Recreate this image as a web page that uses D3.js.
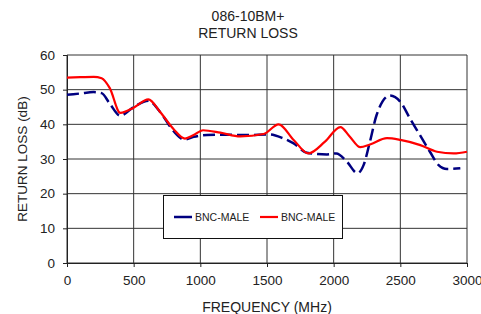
<!DOCTYPE html>
<meta charset="utf-8">
<style>
body { margin: 0; background: #fff; }
text { font-family: "Liberation Sans", Arial, sans-serif; fill: #222; }
.grid line { stroke: #333; stroke-width: 1; }
</style>
<body>
<script src="https://d3js.org/d3.v7.min.js"></script>
<script>

// data
var freqRed = [0, 100, 200, 260, 320, 400, 500, 610, 700, 800, 885, 950, 1020, 1150, 1300, 1475, 1587, 1700, 1810, 1935, 2050, 2120, 2200, 2272, 2400, 2500, 2650, 2775, 2900, 3000];
var lossRed = [53.5, 53.6, 53.7, 53.3, 50.5, 43.3, 44.8, 47.2, 43.5, 38.6, 35.9, 36.9, 38.3, 37.6, 36.5, 37.2, 40, 35.5, 31.6, 35, 39.2, 36.5, 33.4, 34.2, 36, 35.5, 34, 32.1, 31.6, 32.1];
var freqBlue = [0, 100, 200, 260, 320, 400, 500, 610, 700, 800, 880, 950, 1050, 1200, 1350, 1520, 1620, 1700, 1800, 1950, 2020, 2100, 2178, 2225, 2272, 2322, 2422, 2500, 2572, 2647, 2722, 2785, 2850, 2950];
var lossBlue = [48.5, 48.9, 49.3, 49, 46, 42.5, 45, 46.8, 43.5, 38, 35.6, 36.4, 36.9, 37, 36.9, 37.1, 36, 34.5, 31.8, 31.3, 31.6, 29.2, 25.9, 28.3, 35, 42.7, 48.3, 46.5, 41.7, 36.9, 32.1, 28.3, 27.1, 27.3];
var xTicks = [0, 500, 1000, 1500, 2000, 2500, 3000];
var yTicks = [0, 10, 20, 30, 40, 50, 60];
var seriesNames = ["BNC-MALE", "BNC-MALE"];

var margin = {top: 55, right: 14, bottom: 51, left: 67},
    width = 481 - margin.left - margin.right,
    height = 314 - margin.top - margin.bottom;

var svg = d3.select("body").append("svg")
    .attr("width", 481)
    .attr("height", 314);

var g = svg.append("g")
    .attr("transform", "translate(" + margin.left + "," + margin.top + ")");

var x = d3.scaleLinear().domain([0, 3000]).range([0, width]);
var y = d3.scaleLinear().domain([0, 60]).range([height, 0]);

// title
svg.append("text").attr("x", 248).attr("y", 21).attr("text-anchor", "middle")
    .style("font-size", "14px").text("086-10BM+");
svg.append("text").attr("x", 248).attr("y", 38).attr("text-anchor", "middle")
    .style("font-size", "14px").text("RETURN LOSS");

// grid
var grid = g.append("g").attr("class", "grid");
grid.selectAll(".v").data(xTicks).enter().append("line")
    .attr("x1", function(d) { return x(d); }).attr("x2", function(d) { return x(d); })
    .attr("y1", 0).attr("y2", height);
grid.selectAll(".h").data(yTicks).enter().append("line")
    .attr("x1", 0).attr("x2", width)
    .attr("y1", function(d) { return y(d); }).attr("y2", function(d) { return y(d); });

// axes
var xAxis = g.append("g")
    .attr("transform", "translate(0," + height + ")")
    .call(d3.axisBottom(x).tickValues(xTicks).tickSize(4).tickPadding(8).tickFormat(d3.format("d")));
var yAxis = g.append("g")
    .call(d3.axisLeft(y).tickValues(yTicks).tickSize(4).tickPadding(8));
[xAxis, yAxis].forEach(function(a) {
  a.select(".domain").attr("stroke", "#222");
  a.selectAll(".tick line").attr("stroke", "#222");
  a.selectAll("text").style("font-size", "13.5px")
    .style("font-family", "'Liberation Sans', Arial, sans-serif").attr("fill", "#222");
});

// axis titles
svg.append("text").attr("x", 267).attr("y", 312).attr("text-anchor", "middle")
    .style("font-size", "14px").text("FREQUENCY (MHz)");
svg.append("text").attr("transform", "translate(27,159) rotate(-90)")
    .attr("text-anchor", "middle").style("font-size", "13.5px").text("RETURN LOSS (dB)");

// lines
var line = d3.line().curve(d3.curveMonotoneX);

g.append("path")
    .datum(freqBlue.map(function(f, i) { return [x(f), y(lossBlue[i])]; }))
    .attr("d", line)
    .attr("fill", "none")
    .attr("stroke", "#000080")
    .attr("stroke-width", 2.5)
    .attr("stroke-dasharray", "12,5");

g.append("path")
    .datum(freqRed.map(function(f, i) { return [x(f), y(lossRed[i])]; }))
    .attr("d", line)
    .attr("fill", "none")
    .attr("stroke", "#ff0000")
    .attr("stroke-width", 2.2);

// legend
var legend = svg.append("g").attr("class", "legend");
legend.append("rect")
    .attr("x", 163.5).attr("y", 195.5)
    .attr("width", 179).attr("height", 43)
    .attr("fill", "#fff").attr("stroke", "#111");

var legColors = ["#000080", "#ff0000"];
var legX = [174, 260];
seriesNames.forEach(function(name, i) {
  legend.append("line")
    .attr("x1", legX[i]).attr("x2", legX[i] + 18)
    .attr("y1", 217).attr("y2", 217)
    .attr("stroke", legColors[i])
    .attr("stroke-width", i == 0 ? 2.5 : 2.2);
  legend.append("text")
    .attr("x", legX[i] + 21).attr("y", 221)
    .style("font-size", "10.5px")
    .text(name);
});

</script>
</body>
